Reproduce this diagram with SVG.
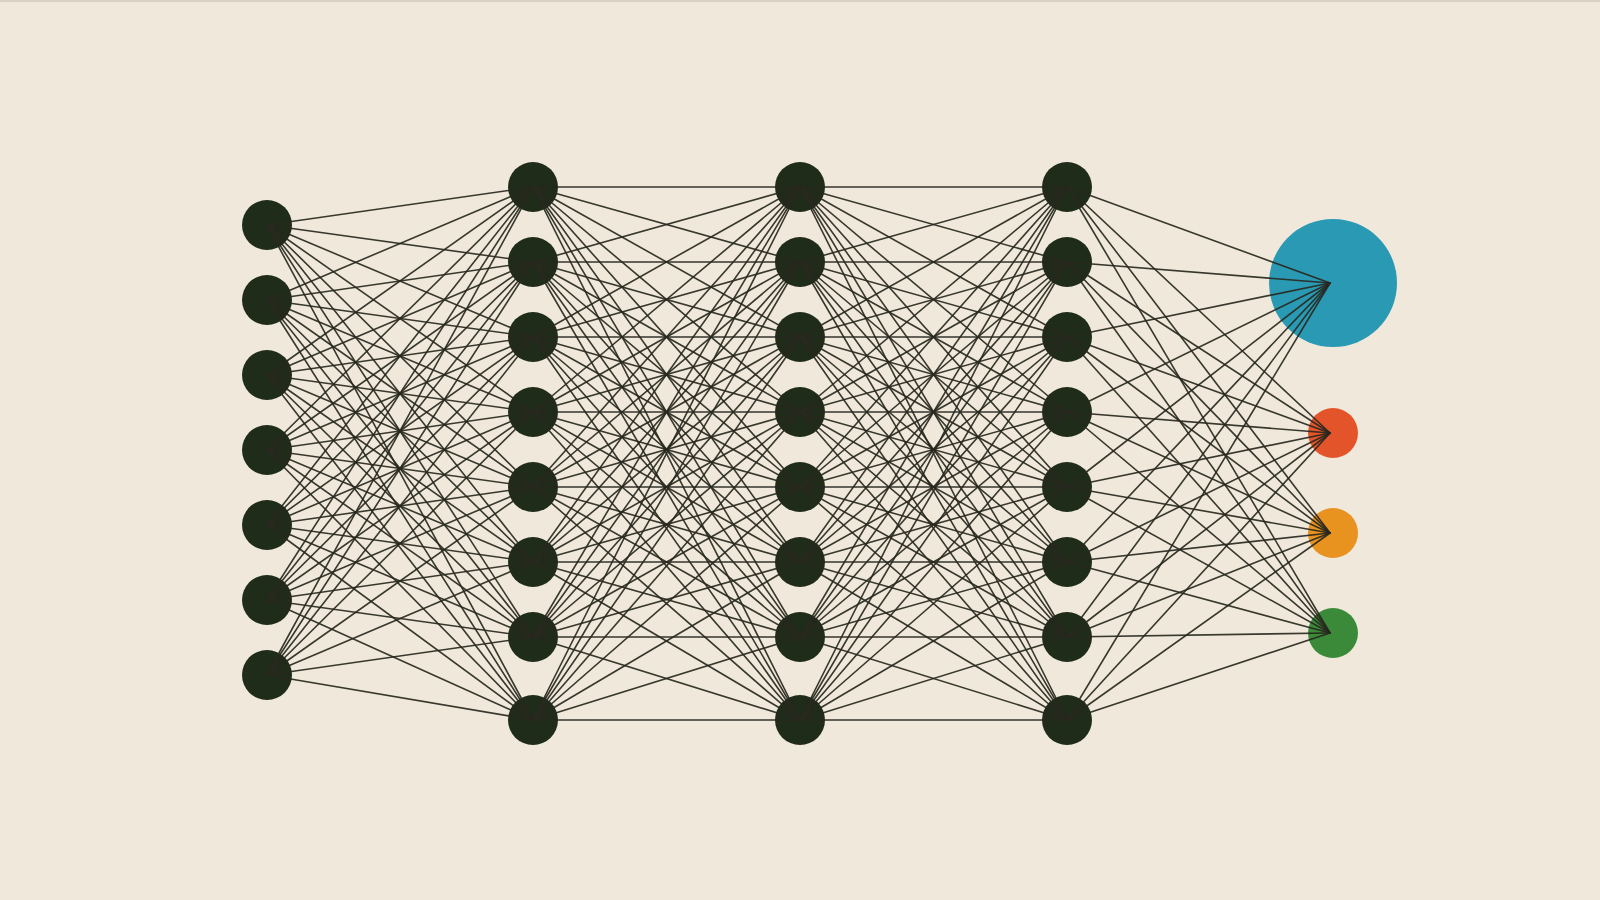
<svg xmlns="http://www.w3.org/2000/svg" width="1600" height="900" viewBox="0 0 1600 900">
<style>
.bg{fill:#efe8db}
.n{fill:#1e2c19}
.w path{fill:none;stroke:#28281e;stroke-width:1.6;stroke-opacity:0.92;stroke-linecap:round}
</style>
<rect class="bg" x="0" y="0" width="1600" height="900"/>
<rect x="0" y="0" width="1600" height="2" fill="#d9d1c4"/>
<g id="input-layer">
<circle id="in1" class="n" cx="267" cy="225" r="25"/>
<circle id="in2" class="n" cx="267" cy="300" r="25"/>
<circle id="in3" class="n" cx="267" cy="375" r="25"/>
<circle id="in4" class="n" cx="267" cy="450" r="25"/>
<circle id="in5" class="n" cx="267" cy="525" r="25"/>
<circle id="in6" class="n" cx="267" cy="600" r="25"/>
<circle id="in7" class="n" cx="267" cy="675" r="25"/>
</g>
<g id="hidden-layer-1">
<circle id="h1n1" class="n" cx="533" cy="187" r="25"/>
<circle id="h1n2" class="n" cx="533" cy="262" r="25"/>
<circle id="h1n3" class="n" cx="533" cy="337" r="25"/>
<circle id="h1n4" class="n" cx="533" cy="412" r="25"/>
<circle id="h1n5" class="n" cx="533" cy="487" r="25"/>
<circle id="h1n6" class="n" cx="533" cy="562" r="25"/>
<circle id="h1n7" class="n" cx="533" cy="637" r="25"/>
<circle id="h1n8" class="n" cx="533" cy="720" r="25"/>
</g>
<g id="hidden-layer-2">
<circle id="h2n1" class="n" cx="800" cy="187" r="25"/>
<circle id="h2n2" class="n" cx="800" cy="262" r="25"/>
<circle id="h2n3" class="n" cx="800" cy="337" r="25"/>
<circle id="h2n4" class="n" cx="800" cy="412" r="25"/>
<circle id="h2n5" class="n" cx="800" cy="487" r="25"/>
<circle id="h2n6" class="n" cx="800" cy="562" r="25"/>
<circle id="h2n7" class="n" cx="800" cy="637" r="25"/>
<circle id="h2n8" class="n" cx="800" cy="720" r="25"/>
</g>
<g id="hidden-layer-3">
<circle id="h3n1" class="n" cx="1067" cy="187" r="25"/>
<circle id="h3n2" class="n" cx="1067" cy="262" r="25"/>
<circle id="h3n3" class="n" cx="1067" cy="337" r="25"/>
<circle id="h3n4" class="n" cx="1067" cy="412" r="25"/>
<circle id="h3n5" class="n" cx="1067" cy="487" r="25"/>
<circle id="h3n6" class="n" cx="1067" cy="562" r="25"/>
<circle id="h3n7" class="n" cx="1067" cy="637" r="25"/>
<circle id="h3n8" class="n" cx="1067" cy="720" r="25"/>
</g>
<g id="output-layer">
<circle id="out-blue" cx="1333" cy="283" r="64" fill="#2a99b4"/>
<circle id="out-red" cx="1333" cy="433" r="25" fill="#e3542b"/>
<circle id="out-orange" cx="1333" cy="533" r="25" fill="#e8921f"/>
<circle id="out-green" cx="1333" cy="633" r="25" fill="#3a8a3a"/>
</g>
<g id="connectors" class="w">
<path d="M267 225L533 187M267 225L533 262M267 225L533 337M267 225L533 412M267 225L533 487M267 225L533 562M267 225L533 637M267 225L533 720"/>
<path d="M267 300L533 187M267 300L533 262M267 300L533 337M267 300L533 412M267 300L533 487M267 300L533 562M267 300L533 637M267 300L533 720"/>
<path d="M267 375L533 187M267 375L533 262M267 375L533 337M267 375L533 412M267 375L533 487M267 375L533 562M267 375L533 637M267 375L533 720"/>
<path d="M267 450L533 187M267 450L533 262M267 450L533 337M267 450L533 412M267 450L533 487M267 450L533 562M267 450L533 637M267 450L533 720"/>
<path d="M267 525L533 187M267 525L533 262M267 525L533 337M267 525L533 412M267 525L533 487M267 525L533 562M267 525L533 637M267 525L533 720"/>
<path d="M267 600L533 187M267 600L533 262M267 600L533 337M267 600L533 412M267 600L533 487M267 600L533 562M267 600L533 637M267 600L533 720"/>
<path d="M267 675L533 187M267 675L533 262M267 675L533 337M267 675L533 412M267 675L533 487M267 675L533 562M267 675L533 637M267 675L533 720"/>
<path d="M533 187L800 187M533 187L800 262M533 187L800 337M533 187L800 412M533 187L800 487M533 187L800 562M533 187L800 637M533 187L800 720"/>
<path d="M533 262L800 187M533 262L800 262M533 262L800 337M533 262L800 412M533 262L800 487M533 262L800 562M533 262L800 637M533 262L800 720"/>
<path d="M533 337L800 187M533 337L800 262M533 337L800 337M533 337L800 412M533 337L800 487M533 337L800 562M533 337L800 637M533 337L800 720"/>
<path d="M533 412L800 187M533 412L800 262M533 412L800 337M533 412L800 412M533 412L800 487M533 412L800 562M533 412L800 637M533 412L800 720"/>
<path d="M533 487L800 187M533 487L800 262M533 487L800 337M533 487L800 412M533 487L800 487M533 487L800 562M533 487L800 637M533 487L800 720"/>
<path d="M533 562L800 187M533 562L800 262M533 562L800 337M533 562L800 412M533 562L800 487M533 562L800 562M533 562L800 637M533 562L800 720"/>
<path d="M533 637L800 187M533 637L800 262M533 637L800 337M533 637L800 412M533 637L800 487M533 637L800 562M533 637L800 637M533 637L800 720"/>
<path d="M533 720L800 187M533 720L800 262M533 720L800 337M533 720L800 412M533 720L800 487M533 720L800 562M533 720L800 637M533 720L800 720"/>
<path d="M800 187L1067 187M800 187L1067 262M800 187L1067 337M800 187L1067 412M800 187L1067 487M800 187L1067 562M800 187L1067 637M800 187L1067 720"/>
<path d="M800 262L1067 187M800 262L1067 262M800 262L1067 337M800 262L1067 412M800 262L1067 487M800 262L1067 562M800 262L1067 637M800 262L1067 720"/>
<path d="M800 337L1067 187M800 337L1067 262M800 337L1067 337M800 337L1067 412M800 337L1067 487M800 337L1067 562M800 337L1067 637M800 337L1067 720"/>
<path d="M800 412L1067 187M800 412L1067 262M800 412L1067 337M800 412L1067 412M800 412L1067 487M800 412L1067 562M800 412L1067 637M800 412L1067 720"/>
<path d="M800 487L1067 187M800 487L1067 262M800 487L1067 337M800 487L1067 412M800 487L1067 487M800 487L1067 562M800 487L1067 637M800 487L1067 720"/>
<path d="M800 562L1067 187M800 562L1067 262M800 562L1067 337M800 562L1067 412M800 562L1067 487M800 562L1067 562M800 562L1067 637M800 562L1067 720"/>
<path d="M800 637L1067 187M800 637L1067 262M800 637L1067 337M800 637L1067 412M800 637L1067 487M800 637L1067 562M800 637L1067 637M800 637L1067 720"/>
<path d="M800 720L1067 187M800 720L1067 262M800 720L1067 337M800 720L1067 412M800 720L1067 487M800 720L1067 562M800 720L1067 637M800 720L1067 720"/>
<path d="M1067 187L1330 283M1067 187L1330 433M1067 187L1330 533M1067 187L1330 633"/>
<path d="M1067 262L1330 283M1067 262L1330 433M1067 262L1330 533M1067 262L1330 633"/>
<path d="M1067 337L1330 283M1067 337L1330 433M1067 337L1330 533M1067 337L1330 633"/>
<path d="M1067 412L1330 283M1067 412L1330 433M1067 412L1330 533M1067 412L1330 633"/>
<path d="M1067 487L1330 283M1067 487L1330 433M1067 487L1330 533M1067 487L1330 633"/>
<path d="M1067 562L1330 283M1067 562L1330 433M1067 562L1330 533M1067 562L1330 633"/>
<path d="M1067 637L1330 283M1067 637L1330 433M1067 637L1330 533M1067 637L1330 633"/>
<path d="M1067 720L1330 283M1067 720L1330 433M1067 720L1330 533M1067 720L1330 633"/>
</g>
</svg>
